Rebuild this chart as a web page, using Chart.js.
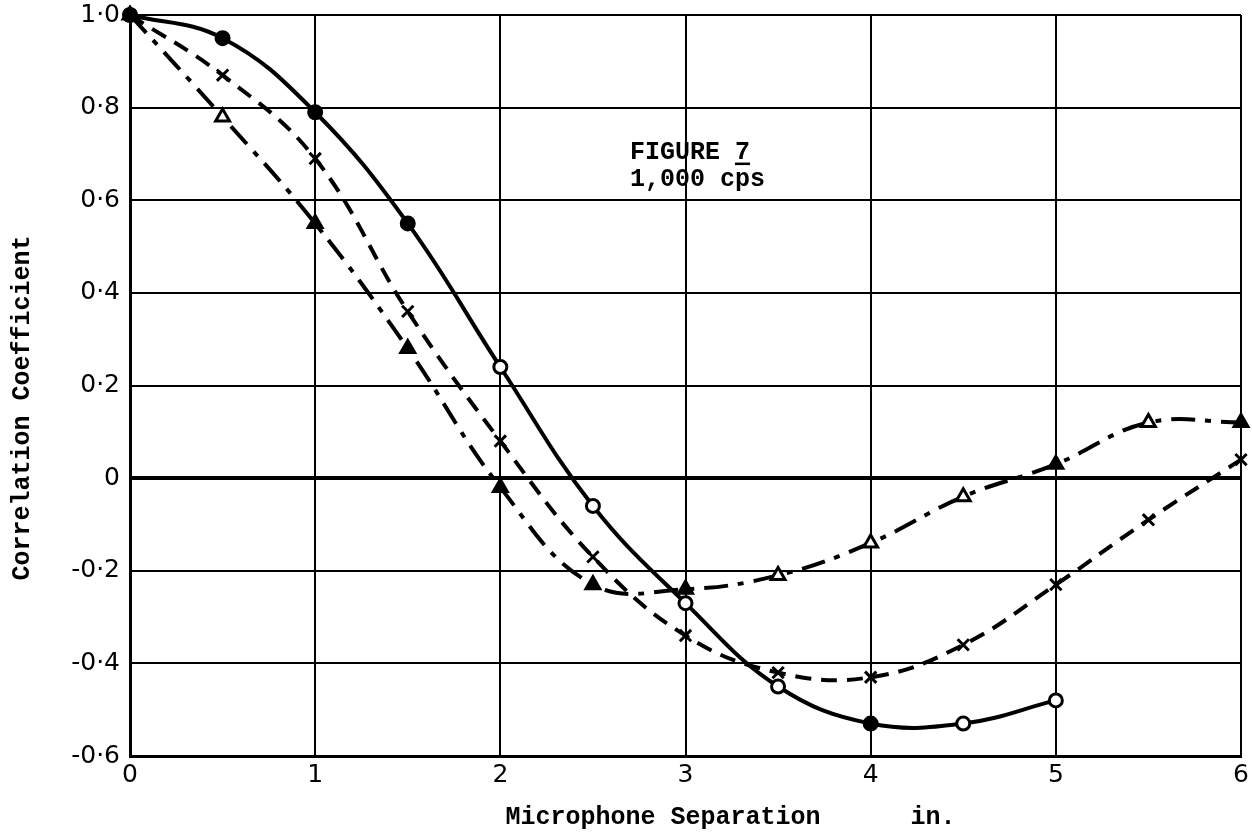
<!DOCTYPE html>
<html lang="en">
<head>
  <meta charset="UTF-8"/>
  <title>Figure 7 - Correlation Coefficient, 1,000 cps</title>
  <script src="https://cdn.jsdelivr.net/npm/chart.js"></script>
  <style>
    html, body { margin: 0; padding: 0; background: #fff; }
    .chart-box { width: 1252px; height: 833px; position: relative; }
  </style>
</head>
<body>
  <div class="chart-box">
    <canvas id="corrChart"></canvas>
  </div>
  <script>
    // --- data ---
    const separations = [0, 0.5, 1, 1.5, 2, 2.5, 3, 3.5, 4, 4.5, 5, 5.5, 6];
    const circleSeries = [1.0, 0.95, 0.79, 0.55, 0.24, -0.06, -0.27, -0.45, -0.53, -0.53, -0.48];
    const crossSeries = [1.0, 0.87, 0.69, 0.36, 0.08, -0.17, -0.34, -0.42, -0.43, -0.36, -0.23, -0.09, 0.04];
    const triangleSeries = [1.0, 0.78, 0.55, 0.28, -0.02, -0.23, -0.24, -0.21, -0.14, -0.04, 0.03, 0.12, 0.12];

    const xTickLabels = ['0', '1', '2', '3', '4', '5', '6'];
    const yTickValues = [-0.6, -0.4, -0.2, 0, 0.2, 0.4, 0.6, 0.8, 1.0];
    const yTickLabels = ['-0·6', '-0·4', '-0·2', '0', '0·2', '0·4', '0·6', '0·8', '1·0'];

    const figureTitle = 'FIGURE 7';
    const figureSubtitle = '1,000 cps';

    function toPoints(values) {
      return values.map((v, i) => ({ x: separations[i], y: v }));
    }

    const typeFont = "'Liberation Mono', 'DejaVu Sans Mono', monospace";
    const tickFont = "'DejaVu Sans', sans-serif";

    // label block "FIGURE 7 / 1,000 cps" inside the plot
    const figureLabel = {
      id: 'figureLabel',
      afterDraw(chart) {
        const { ctx, scales } = chart;
        const x = scales.x.getPixelForValue(2.7);
        const y = scales.y.getPixelForValue(0.69);
        ctx.save();
        ctx.fillStyle = '#000';
        ctx.font = 'bold 25px ' + typeFont;
        ctx.textBaseline = 'alphabetic';
        ctx.fillText(figureTitle, x, y);
        // underline the "7"
        const pre = ctx.measureText('FIGURE ').width;
        const full = ctx.measureText(figureTitle).width;
        ctx.fillRect(x + pre, y + 4, full - pre, 2.5);
        ctx.fillText(figureSubtitle, x, y + 27);
        ctx.restore();
      }
    };

    new Chart(document.getElementById('corrChart').getContext('2d'), {
      type: 'line',
      data: {
        datasets: [
          {
            label: 'circles',
            data: toPoints(circleSeries),
            borderColor: '#000',
            borderWidth: 4,
            tension: 0.4,
            pointStyle: 'circle',
            pointRadius: 6.5,
            pointBorderWidth: 3,
            pointBackgroundColor: ['#000', '#000', '#000', '#000', '#fff', '#fff', '#fff', '#fff', '#000', '#fff', '#fff'],
            pointBorderColor: '#000',
            clip: 10
          },
          {
            label: 'crosses',
            data: toPoints(crossSeries),
            borderColor: '#000',
            borderWidth: 4,
            borderDash: [16, 10],
            tension: 0.4,
            pointStyle: 'crossRot',
            pointRadius: 8,
            pointBorderWidth: 3,
            pointBorderColor: '#000',
            clip: 10
          },
          {
            label: 'triangles',
            data: toPoints(triangleSeries),
            borderColor: '#000',
            borderWidth: 4,
            borderDash: [24, 10, 6, 10],
            tension: 0.4,
            pointStyle: 'triangle',
            pointRadius: 8,
            pointBorderWidth: 3,
            pointBackgroundColor: ['#000', '#fff', '#000', '#000', '#000', '#000', '#000', '#fff', '#fff', '#fff', '#000', '#fff', '#000'],
            pointBorderColor: '#000',
            clip: 10
          }
        ]
      },
      options: {
        responsive: true,
        maintainAspectRatio: false,
        animation: false,
        layout: { padding: { left: 0, top: 15, right: 3, bottom: 0 } },
        plugins: {
          legend: { display: false },
          tooltip: { enabled: false }
        },
        scales: {
          x: {
            type: 'linear',
            min: 0,
            max: 6,
            afterFit(scale) {
              scale.height = 77;
              scale.paddingLeft = 0;
              scale.paddingRight = 0;
            },
            ticks: {
              stepSize: 1,
              padding: 4,
              color: '#000',
              font: { family: tickFont, size: 25 },
              callback: (v, i) => xTickLabels[i]
            },
            grid: { color: '#000', lineWidth: 2, drawTicks: false },
            border: { display: true, color: '#000', width: 3 },
            title: {
              display: true,
              text: '      Microphone Separation      in.',
              color: '#000',
              font: { family: typeFont, size: 25, weight: 'bold' },
              padding: { top: 1, bottom: 0 }
            }
          },
          y: {
            type: 'linear',
            min: -0.6,
            max: 1.0,
            afterFit(scale) {
              scale.width = 130;
              scale.paddingTop = 0;
              scale.paddingBottom = 0;
            },
            afterBuildTicks(scale) { scale.ticks = yTickValues.map(v => ({ value: v })); },
            ticks: {
              padding: 10,
              color: '#000',
              font: { family: tickFont, size: 25 },
              callback: (v, i) => yTickLabels[i]
            },
            grid: {
              color: '#000',
              drawTicks: false,
              lineWidth: ctx => (ctx.tick && ctx.tick.value === 0 ? 4 : 2)
            },
            border: { display: true, color: '#000', width: 3 },
            title: {
              display: true,
              text: 'Correlation Coefficient   ',
              color: '#000',
              font: { family: typeFont, size: 25, weight: 'bold' },
              padding: { top: 8, bottom: 0 }
            }
          }
        }
      },
      plugins: [figureLabel]
    });
  </script>
</body>
</html>
